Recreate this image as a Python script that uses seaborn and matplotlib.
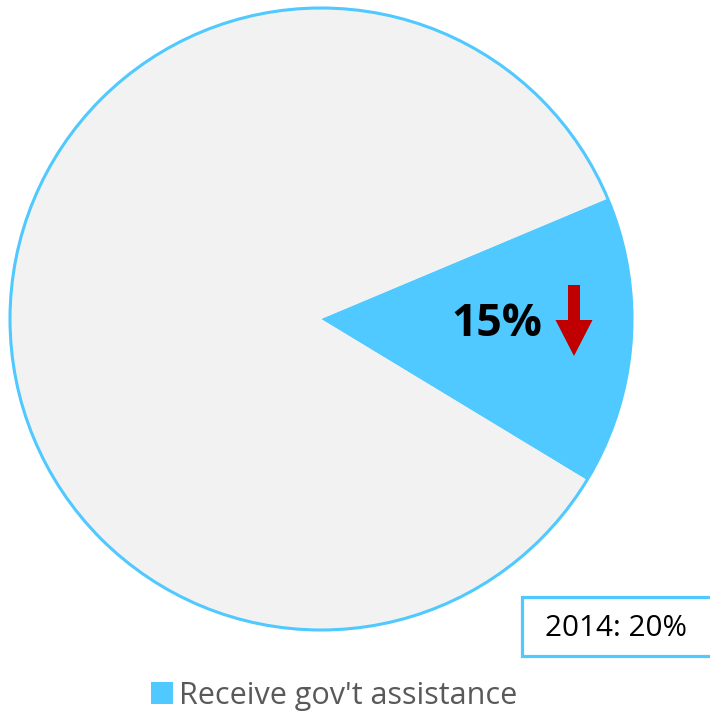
import matplotlib
matplotlib.use("Agg")
import matplotlib.pyplot as plt
from matplotlib.patches import Circle, Rectangle
import seaborn as sns

sns.set_theme(style="white")
plt.rcParams["font.family"] = ["Open Sans", "DejaVu Sans"]

# Share of respondents
categories = ["Receive gov't assistance", "Other"]
shares = [15, 85]
prior_label = "2014: 20%"
slice_colors = ["#4FC9FF", "#F2F2F2"]
edge_blue = "#4FC9FF"

W, H = 710, 717
fig = plt.figure(figsize=(W / 100, H / 100), dpi=100)
ax = fig.add_axes([0, 0, 1, 1])

cx, cy, r = 321, H - 319, 311
start = -31.2
wedges, _ = ax.pie(shares, colors=slice_colors, startangle=start,
                   center=(cx, cy), radius=r, frame=True,
                   wedgeprops=dict(linewidth=0))
ax.set_xlim(0, W)
ax.set_ylim(0, H)
ax.set_aspect("equal")
ax.axis("off")
ax.add_patch(Circle((cx, cy), r, fill=False, edgecolor=edge_blue, lw=2.2))

# value label and down arrow inside the highlighted slice
ax.text(497, H - 324, f"{shares[0]}%", ha="center", va="center",
        fontsize=32, fontweight="bold", color="black")
ax.arrow(574, H - 285, 0, -(356 - 285), width=12, head_width=37,
         head_length=36, length_includes_head=True, color="#C00000", lw=0)

# previous-year comparison box
ax.add_patch(Rectangle((522, H - 656), 220, 59, fill=True, facecolor="white",
                       edgecolor=edge_blue, lw=2.3, clip_on=True))
ax.text(616, H - 628, prior_label, ha="center", va="center",
        fontsize=21.3, color="black")

leg = fig.legend([wedges[0]], [categories[0]], loc="center",
                 bbox_to_anchor=(334 / W, 1 - 696 / H), frameon=False,
                 fontsize=22, handlelength=0.72, handleheight=0.72,
                 handletextpad=0.2, borderaxespad=0)
for t in leg.get_texts():
    t.set_color("#595959")

fig.savefig("out.png", dpi=100)
